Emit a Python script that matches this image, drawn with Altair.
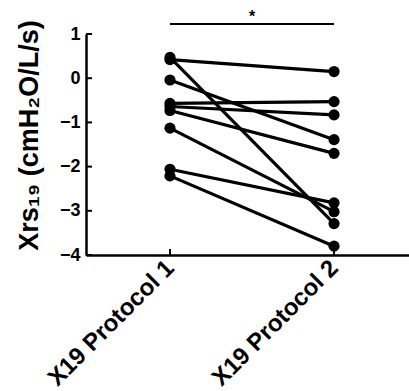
import altair as alt
import pandas as pd

categories = ["X19 Protocol 1", "X19 Protocol 2"]
protocol1 = [0.42, 0.47, -0.04, -0.57, -0.64, -0.73, -1.13, -2.06, -2.21]
protocol2 = [0.15, -3.29, -1.39, -0.53, -0.83, -1.70, -3.02, -2.82, -3.80]
y_ticks = [1, 0, -1, -2, -3, -4]
x_pos = [1, 2]

rows = []
for i, (a, b) in enumerate(zip(protocol1, protocol2)):
    rows.append({"subject": i, "x": x_pos[0], "value": a})
    rows.append({"subject": i, "x": x_pos[1], "value": b})
df = pd.DataFrame(rows)

FONT = "Liberation Sans"
xscale = alt.Scale(domain=[0.488, 2.457], nice=False, zero=False)
yscale = alt.Scale(domain=[-4, 1], nice=False, zero=False)

label_expr = "datum.value == 1 ? '%s' : '%s'" % (categories[0], categories[1])

xaxis = alt.Axis(values=x_pos, labelExpr=label_expr, title=None, grid=False,
                 labelAngle=-45, labelAlign="right", labelBaseline="middle",
                 labelFont=FONT, labelFontWeight="bold", labelFontSize=24,
                 labelColor="black", labelPadding=9, tickSize=0,
                 domainColor="black", domainWidth=2.5)
yaxis = alt.Axis(values=y_ticks, title="Xrs₁₉ (cmH₂O/L/s)", grid=False,
                 labelFont=FONT, labelFontWeight="bold", labelFontSize=18,
                 labelColor="black", labelPadding=6, tickSize=0,
                 domainColor="black", domainWidth=2.5,
                 titleFont=FONT, titleFontWeight="bold", titleFontSize=27,
                 titleColor="black", titleX=-57, titleY=101,
                 titleAlign="center", titleBaseline="middle", titleAngle=-90)

base = alt.Chart(df)
lines = base.mark_line(color="black", strokeWidth=3.2).encode(
    x=alt.X("x:Q", scale=xscale, axis=xaxis),
    y=alt.Y("value:Q", scale=yscale, axis=yaxis),
    detail="subject:N",
)
points = base.mark_circle(color="black", size=125, opacity=1).encode(
    x=alt.X("x:Q", scale=xscale),
    y=alt.Y("value:Q", scale=yscale),
)

yt = pd.DataFrame({"v": y_ticks})
yticks = alt.Chart(yt).mark_rule(color="black", strokeWidth=2).encode(
    y=alt.Y("v:Q", scale=yscale), x=alt.value(0), x2=alt.value(6)
)
xt = pd.DataFrame({"x": x_pos})
xticks = alt.Chart(xt).mark_rule(color="black", strokeWidth=2).encode(
    x=alt.X("x:Q", scale=xscale), y=alt.value(221), y2=alt.value(215)
)
sig = pd.DataFrame({"x": [x_pos[0]], "x2": [x_pos[1]], "mid": [1.5], "t": ["*"]})
sigbar = alt.Chart(sig).mark_rule(color="black", strokeWidth=2).encode(
    x=alt.X("x:Q", scale=xscale), x2="x2:Q", y=alt.value(-10)
)
star = alt.Chart(sig).mark_text(font=FONT, fontSize=16, fontWeight="bold", color="black").encode(
    x=alt.X("mid:Q", scale=xscale), y=alt.value(-17), text="t:N"
)

chart = alt.layer(lines, points, yticks, xticks, sigbar, star).properties(
    width=323, height=221,
    autosize=alt.AutoSizeParams(type="none"),
    padding={"left": 86, "top": 34, "right": 0, "bottom": 136},
).configure_view(stroke=None)

chart.save("out.html", embed_options={"renderer": "svg", "actions": False})
